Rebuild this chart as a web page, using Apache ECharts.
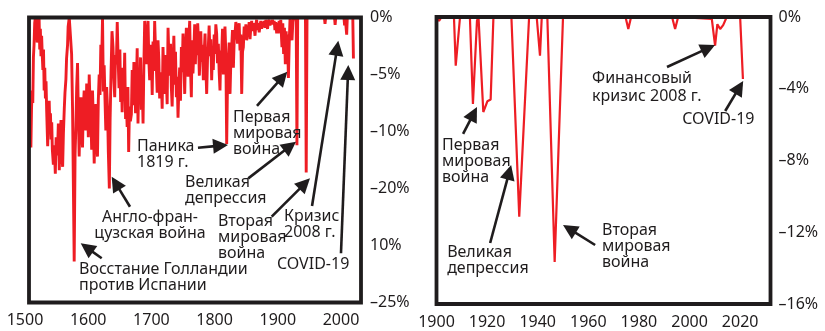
<!DOCTYPE html>
<html>
<head>
<meta charset="utf-8">
<script src="https://cdn.jsdelivr.net/npm/echarts@6/dist/echarts.min.js"></script>
<style>
    html, body { margin: 0; padding: 0; background: #fff; }
    #chart { width: 825px; height: 331px; }
</style>
</head>
<body>
<div id="chart"></div>
<script>
// ====================== данные: левая панель (1500–2020) ======================
var leftYears = [
    1509, 1510, 1511, 1512, 1513, 1514, 1515, 1516, 1517, 1518,
    1519, 1520, 1521, 1522, 1523, 1524, 1525, 1526, 1527, 1528,
    1529, 1530, 1531, 1532, 1533, 1534, 1535.6, 1537, 1538, 1539,
    1540, 1541, 1542, 1543, 1544.6, 1546, 1547.7, 1549, 1550, 1551.4,
    1552.5, 1554, 1555, 1556.7, 1558, 1559.3, 1560.5, 1561.9, 1563, 1564.5,
    1565.5, 1567.1, 1568, 1569.8, 1572.4, 1573.5, 1575, 1577.6, 1579, 1580.3,
    1581.5, 1582.9,
    1584, 1585.5, 1586.8, 1588.2, 1589.5, 1590.8, 1592, 1593.4, 1594.8, 1596.1,
    1597.4, 1598.7, 1600, 1601.4, 1602.7, 1604, 1605.3, 1606.6, 1608, 1609.3,
    1610.6, 1611.9, 1613.2, 1614.5, 1615.8, 1617.2, 1618.5, 1619.8, 1621.2, 1622.5,
    1623.8, 1625.1, 1626.4, 1627.7, 1629, 1630.4, 1631.7, 1633.3, 1634.5,
    1636, 1637.5, 1639.1, 1640.5, 1641.8, 1643, 1644.4, 1645.8, 1647.2, 1648.6,
    1650, 1651.2, 1652.3, 1653.6, 1655, 1656.3, 1657.6, 1659, 1660.2, 1661.5,
    1662.7, 1663.9, 1665.2, 1666.6, 1668.2, 1669.5, 1670.8, 1672.2, 1673.5, 1674.8,
    1676, 1677.4, 1678.7, 1680, 1681.4, 1682.7, 1684, 1685.4, 1686.7, 1688,
    1689.3, 1690.6, 1691.9, 1693.2, 1694.6, 1695.9, 1697.2, 1698.5, 1699.9, 1701.2,
    1702.5, 1703.8, 1705.1, 1706.5, 1707.8, 1709.1, 1710.4, 1711.7, 1713, 1714.4,
    1715.7, 1717, 1718.3, 1719.6, 1721, 1722.3, 1723.6, 1724.9, 1726.3, 1727.6,
    1728.9, 1730.2, 1731.5, 1732.8, 1734.2, 1735.5, 1736.8, 1738.1, 1739.5, 1740.8,
    1742.1, 1743.4, 1744.7, 1746, 1747.4, 1748.7, 1750, 1751.3, 1752.7, 1754,
    1755.3, 1756.6, 1758, 1759.3, 1760.6, 1761.9, 1763.2,
    1764.5, 1765.8, 1767.2, 1768.5, 1769.6, 1770.7, 1772, 1773.3, 1774.6, 1775.9,
    1776.9, 1778.2, 1779.5, 1780.9, 1782.2, 1783.5, 1784.9, 1786.2, 1787.5, 1788.8,
    1790.1, 1791.4, 1792.8, 1794.1, 1795.4, 1796.7, 1798, 1799.4, 1800.7, 1802,
    1803.3, 1804.6, 1806, 1807.3, 1808.6, 1809.9, 1811.3, 1812.6, 1813.9, 1815.2,
    1816.5, 1817.9, 1819.2, 1820.5, 1821.8, 1823.1, 1824.5, 1825.8, 1827.1, 1828.4,
    1829.8, 1831.1, 1832.4, 1833.7, 1835, 1836.3, 1837.7, 1839, 1840.3, 1841.6,
    1843, 1844.3, 1845.6, 1846.9, 1848.2, 1849.6, 1850.9, 1852.2, 1853.5, 1854.8,
    1856.2, 1857.5, 1858.8, 1860.1, 1861.4, 1862.8, 1864.1, 1865.4, 1866.7, 1868,
    1869.4, 1870.7, 1872, 1873.3, 1874.6, 1876, 1877.3, 1878.6, 1879.9, 1881.2,
    1882.5, 1883.9, 1885.2, 1886.5, 1887.8, 1889.1, 1890.5, 1891.8, 1893.1, 1894.4,
    1895.7, 1897, 1898.4, 1899.7,
    1901, 1902.3, 1903.6, 1904.9, 1906.2, 1906.8, 1908.1, 1909.4, 1910.7, 1912.1,
    1913.4, 1914.7, 1915.5, 1917, 1918.3, 1919.6, 1921, 1922.7, 1924, 1925.3,
    1929.3, 1930.5, 1931.7, 1944, 1945.2, 1946.5, 1974, 1975, 1976, 1990,
    1991, 1992, 2005, 2006, 2007, 2008.3, 2009.3, 2010.3, 2019, 2020
];
var leftValues = [
    -11.4, -8, -6.4, -7.5, -3.5, -2.4, -0.5, 0, -1.2, 0,
    -2.2, -0.6, -1.8, 0, -2.8, -1, -3.4, -1.6, -3.3, -4.6,
    -2.8, -6.4, -4.4, -7.1, -5.6, -8.2, -11.3, -8.6, -7.3, -9.6,
    -8.4, -10.7, -9.2, -11.6, -12.9, -11.2, -13.7, -10.5, -12.1, -11.4,
    -9.3, -13.4, -10.8, -9, -12.2, -13.1, -10.2, -8, -6.6, -5.4,
    -3.6, -2.4, -0.8, 0, 0, -3.2, -8, -21.4, -12, -9.5,
    -6.2, -4,
    -7.8, -12.2, -8.5, -7, -10.1, -11.4, -8, -6.4, -8.8, -9.9,
    -5.8, -7, -10.5, -5, -7.6, -8.4, -11.6, -6.4, -9.2, -12.8,
    -9.7, -7.6, -10.4, -12.2, -7.3, -5, -6.8, -2.4, -3.8, 0,
    -6.5, -4.2, -7.2, -9.9, -6.1, -7.9, -11.8, -15, -9,
    -4.8, -1.2, -2.6, -5.4, -7, -3.3, -4.1, -0.4, -3.6, -6.2,
    -2.8, -7.4, -5, -8.3, -4.4, -6.9, -3.1, -8.9, -7.3, -9.6,
    -6.1, -11.8, -7.8, -9.1, -8.5, -4.6, -7.7, -3.9, -5.5, -8.4,
    -6.3, -2.7, -9.3, -5.2, -7, -3.5, -8.1, -5.8, -9.3, -4.2,
    -0.3, -2.2, -4.1, -1.5, -0.3, -3.8, -5.5, -2.4, -3.2, -6.8,
    -2.1, -4.7, -0.3, -2.9, -4.4, -6.6, -2, -3.7, -7.1, -4.8,
    -5.5, -8, -2.6, -4.9, -6.7, -3.3, -5.5, -7.6, -0.9, -3.4,
    -5.1, -2.3, -6.1, -7.8, -4.1, -1.6, -5.9, -3, -7, -5.2,
    -8.8, -6.3, -4.4, -7.3, -2.6, -4.8, -1.4, -3.9, -6.7, -3.1,
    -0.9, -2.7, -5.2, -1.8, -0.3, -4.4, -7,
    -2, -4.9, -2.8, -0.6, -4.1, -1.4, -3.3, -0.5, -2.2, -5.1,
    -3.5, -1.2, -3.9, -2.4, -5.5, -3.2, -1.4, -4.4, -6.7, -3.7,
    -2.6, -0.7, -3.4, -1.9, -5.5, -2.8, -4.6, -1.5, -3.2, -0.6,
    -1.4, -4, -2.3, -4.8, -6.4, -2.9, -3.2, -1, -5, -2.5,
    -0.8, -3.3, -11.1, -5.7, -4.1, -2.2, -6.7, -3.8, -2.6, -1.1,
    -4.4, -2, -1.4, -0.4, -0.9, -2.3, -1.2, -0.5, -2.9, -1.5,
    -6.7, -3, -2.6, -0.8, -1.8, -0.6, -2, -1, -1.4, -0.4,
    -1.9, -0.8, -0.3, -1.2, -0.5, -0.9, -1.6, -0.6, -0.2, -1.1,
    -0.5, -1.3, -0.7, -0.3, -1, -0.4, -0.8, -0.3, -0.9, -0.2,
    -0.6, -1, -0.4, -0.2, -0.7, -0.3, -0.6, -0.2, -0.6, -0.3,
    -1.1, -0.4, -1.4, -0.5,
    -1.4, -0.3, -1.3, -0.2, -1.9, -2.6, -0.5, -3.2, -0.9, -4.1,
    -1.2, -3.3, -1.5, -5.3, -2.2, 0, -0.8, -2, -0.4, 0,
    0, -11.2, 0, 0, -13.6, 0, 0, -0.55, 0, 0,
    -0.65, 0, 0, -0.7, 0, 0, -1.5, 0, 0, -3.6
];

// ====================== данные: правая панель (1900–2020) ======================
var rightYears = [
    1900, 1901, 1902, 1906.9, 1907.6, 1909.3, 1913.2, 1914.4, 1916, 1916.6,
    1918.5, 1920.1, 1921.4, 1922.5, 1929.6, 1932.7, 1936.6, 1939.6, 1940.9, 1941.6,
    1943.8, 1946.7, 1950, 1974.7, 1975.8, 1976.9, 1993.1, 1994.3, 1995.5, 2008.8,
    2010.1, 2011, 2012.1, 2013.3, 2014.7, 2020, 2021.1
];
var rightValues = [
    0, -0.22, 0, 0, -2.71, 0, 0, -4.85, -0.2, 0,
    -5.3, -4.7, -4.6, 0, 0, -11.13, 0, 0, -2.16, 0,
    0, -13.66, 0, 0, -0.67, 0, 0, -0.67, 0, -0.1,
    -1.6, -0.4, -0.67, -0.45, 0, 0, -3.46
];

// подписи делений (как на оригинале)
var leftTickLabels = ['0%', '–5%', '–10%', '–20%', '10%', '–25%'];
var rightTickLabels = ['0%', '–4%', '–8%', '–12%', '–16%'];

// подписи и стрелки, в координатах данных
var notes = [
    { grid: 0, text: 'Восстание Голландии\nпротив Испании', at: [1585.2, -21.36], align: 'left', from: [1621.2, -21.12], to: [1587.9, -19.81] },
    { grid: 0, text: 'Англо-фран-\nцузская война', at: [1697.7, -16.8], align: 'center', from: [1666.0, -16.6], to: [1637.0, -13.97] },
    { grid: 0, text: 'Паника\n1819 г.', at: [1677.1, -10.57], align: 'left', from: [1773.7, -11.42], to: [1821.3, -11.18] },
    { grid: 0, text: 'Первая\nмировая\nвойна', at: [1829.2, -8.03], align: 'left', from: [1867.2, -7.76], to: [1915.2, -4.75] },
    { grid: 0, text: 'Великая\nдепрессия', at: [1753.2, -13.73], align: 'left', from: [1853.4, -14.11], to: [1929.0, -10.89] },
    { grid: 0, text: 'Вторая\nмировая\nвойна', at: [1805.4, -17.15], align: 'left', from: [1890.5, -17.47], to: [1951.2, -14.11] },
    { grid: 0, text: 'Кризис\n2008 г.', at: [1910.0, -16.71], align: 'left', from: [1954.4, -16.54], to: [1996.0, -2.04] },
    { grid: 0, text: 'COVID-19', at: [1898.9, -20.92], align: 'left', from: [2000.3, -20.68], to: [2011.9, -4.17] },
    { grid: 1, text: 'Первая\nмировая\nвойна', at: [1902.2, -6.69], align: 'left', from: [1910.5, -6.52], to: [1916.0, -5.02] },
    { grid: 1, text: 'Великая\nдепрессия', at: [1904.2, -12.66], align: 'left', from: [1921.2, -12.6], to: [1929.5, -8.25] },
    { grid: 1, text: 'Вторая\nмировая\nвойна', at: [1965.4, -11.43], align: 'left', from: [1962.7, -12.71], to: [1950.0, -11.6] },
    { grid: 1, text: 'Финансовый\nкризис 2008 г.', at: [1961.5, -2.9], align: 'left', lineHeight: 18, from: [1991.1, -2.79], to: [2010.1, -1.56] },
    { grid: 1, text: 'COVID-19', at: [1997.1, -5.24], align: 'left', from: [2014.1, -5.24], to: [2021.2, -3.57] }
];

var red = '#ee1d24';
var ink = '#1f1c1d';
var font = 'Noto Sans';

var leftBox = { left: 29, top: 17.5, width: 332, height: 285 };
var rightBox = { left: 436.5, top: 17, width: 334, height: 287 };

function zip(xs, ys) {
    return xs.map(function (x, i) { return [x, ys[i]]; });
}

var labelStyle = { color: ink, fontSize: 16, fontFamily: font };
var yearLabel = function (v) { return String(v); }; // без разделителя тысяч

var chart = echarts.init(document.getElementById('chart'));
chart.setOption({
    animation: false,
    grid: [
        { left: leftBox.left, top: leftBox.top, width: leftBox.width, height: leftBox.height, outerBoundsMode: 'none' },
        { left: rightBox.left, top: rightBox.top, width: rightBox.width, height: rightBox.height, outerBoundsMode: 'none' },
        // только подписи лет для левой панели
        { left: 25, top: leftBox.top, width: 316, height: leftBox.height, outerBoundsMode: 'none' }
    ],
    xAxis: [
        {
            gridIndex: 0, type: 'value', min: 1506, max: 2032,
            axisLine: { show: false }, axisTick: { show: false },
            axisLabel: { show: false }, splitLine: { show: false }
        },
        {
            gridIndex: 1, type: 'value', min: 1900, max: 2032, interval: 20,
            axisLine: { show: false }, axisTick: { show: false }, splitLine: { show: false },
            axisLabel: Object.assign({ margin: 10, showMaxLabel: false, formatter: yearLabel }, labelStyle)
        },
        {
            gridIndex: 2, type: 'value', min: 1500, max: 2000, interval: 100,
            axisLine: { show: false }, axisTick: { show: false }, splitLine: { show: false },
            axisLabel: Object.assign({ margin: 10, formatter: yearLabel }, labelStyle)
        }
    ],
    yAxis: [
        {
            gridIndex: 0, type: 'value', position: 'right', min: -25, max: 0, interval: 5,
            axisLine: { show: false }, axisTick: { show: false }, splitLine: { show: false },
            axisLabel: Object.assign({
                margin: 9,
                formatter: function (v) { return leftTickLabels[Math.round(-v / 5)]; }
            }, labelStyle)
        },
        {
            gridIndex: 1, type: 'value', position: 'right', min: -16, max: 0, interval: 4,
            axisLine: { show: false }, axisTick: { show: false }, splitLine: { show: false },
            axisLabel: Object.assign({
                margin: 8,
                formatter: function (v) { return rightTickLabels[Math.round(-v / 4)]; }
            }, labelStyle)
        },
        { gridIndex: 2, type: 'value', min: 0, max: 1, show: false }
    ],
    series: [
        {
            type: 'line', xAxisIndex: 0, yAxisIndex: 0,
            data: zip(leftYears, leftValues),
            showSymbol: false, silent: true,
            lineStyle: { color: red, width: 2.9, join: 'bevel' }
        },
        {
            type: 'line', xAxisIndex: 1, yAxisIndex: 1,
            data: zip(rightYears, rightValues),
            showSymbol: false, silent: true,
            lineStyle: { color: red, width: 2.2, join: 'bevel' }
        }
    ]
});

// ====================== рамки, подписи, стрелки ======================
function arrow(p0, p1) {
    var dx = p1[0] - p0[0], dy = p1[1] - p0[1];
    var len = Math.sqrt(dx * dx + dy * dy);
    var ux = dx / len, uy = dy / len;
    var hl = 15, hw = 7.5;
    var bx = p1[0] - ux * hl, by = p1[1] - uy * hl;
    return [
        {
            type: 'line', z: 110, silent: true,
            shape: { x1: p0[0], y1: p0[1], x2: bx + ux * 2, y2: by + uy * 2 },
            style: { stroke: ink, lineWidth: 2.6 }
        },
        {
            type: 'polygon', z: 110, silent: true,
            shape: { points: [[p1[0], p1[1]], [bx - uy * hw, by + ux * hw], [bx + uy * hw, by - ux * hw]] },
            style: { fill: ink }
        }
    ];
}

var elements = [leftBox, rightBox].map(function (b) {
    return {
        type: 'rect', z: 100, silent: true,
        shape: { x: b.left, y: b.top, width: b.width, height: b.height },
        style: { fill: 'none', stroke: ink, lineWidth: 3.8 }
    };
});

notes.forEach(function (n) {
    var p = chart.convertToPixel({ gridIndex: n.grid }, n.at);
    elements.push({
        type: 'text', z: 110, silent: true,
        x: p[0], y: p[1],
        style: {
            text: n.text, fill: ink, fontSize: 16, fontFamily: font,
            align: n.align, verticalAlign: 'top', lineHeight: n.lineHeight || 16
        }
    });
    var a = chart.convertToPixel({ gridIndex: n.grid }, n.from);
    var b = chart.convertToPixel({ gridIndex: n.grid }, n.to);
    elements = elements.concat(arrow(a, b));
});

chart.setOption({ graphic: { elements: elements } });
</script>
</body>
</html>
